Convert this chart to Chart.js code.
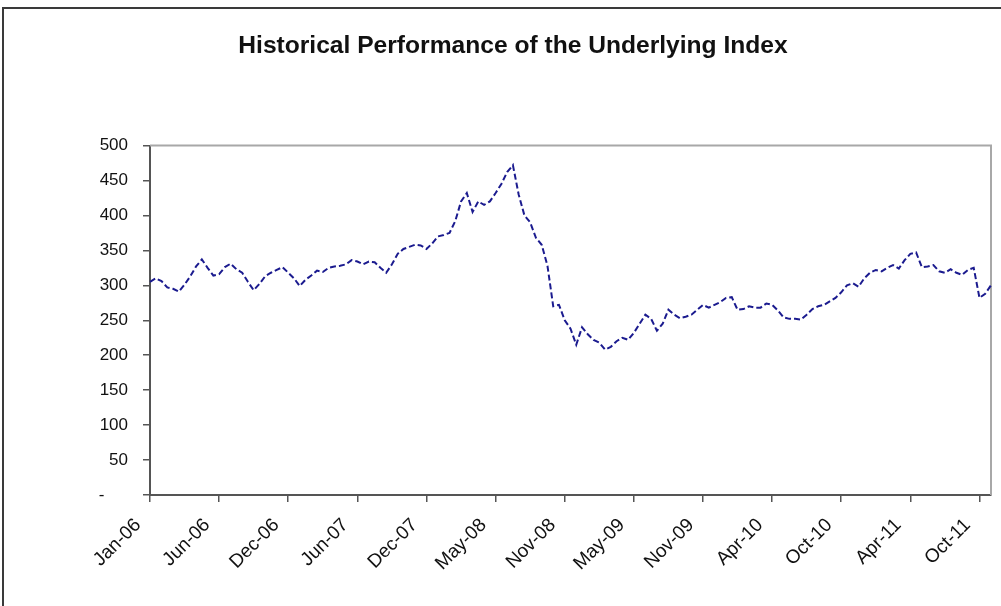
<!DOCTYPE html>
<html>
<head>
<meta charset="utf-8">
<script src="https://cdn.jsdelivr.net/npm/chart.js@4.4.0/dist/chart.umd.min.js"></script>
<style>
  html, body { margin: 0; padding: 0; background: #fff; overflow: hidden; }
  #wrap { position: relative; width: 1001px; height: 606px; }
  #frame { position: absolute; left: 2px; top: 7px; width: 1100px; height: 700px;
           border-left: 2px solid #3a3a3a; border-top: 2px solid #3a3a3a; box-sizing: border-box; }
  canvas { position: absolute; left: 0; top: 0; }
</style>
</head>
<body>
<div id="wrap">
  <canvas id="c" width="1001" height="606"></canvas>
  <div id="frame"></div>
</div>
<script>
const chartTitle = 'Historical Performance of the Underlying Index';
const tickLabels = ['Jan-06','Jun-06','Dec-06','Jun-07','Dec-07','May-08','Nov-08',
                    'May-09','Nov-09','Apr-10','Oct-10','Apr-11','Oct-11'];
const pointsPerTick = 12;
const indexValues = [
  305,310,306,297,295,291,301,313,327,337,325,314,
  316,326,331,323,318,305,293,302,313,318,322,326,
  318,310,299,308,314,321,319,325,327,328,330,336,
  334,330,334,333,325,318,330,345,352,355,358,357,
  352,360,370,372,375,392,420,432,405,420,415,420,
  432,445,462,472,430,400,390,368,358,328,270,272,
  250,238,215,240,230,222,218,208,212,220,225,222,
  232,245,258,252,235,245,265,258,253,255,258,265,
  272,268,272,276,282,283,265,266,270,268,268,274,
  272,264,254,252,252,251,258,266,270,272,277,282,
  290,300,303,298,310,318,322,320,325,329,324,336,
  345,347,326,327,329,320,318,323,318,315,322,325,
  282,288,300
];
const yTicks = { min: 0, max: 500, step: 50 };
const categories = indexValues.map((v, i) => (i % pointsPerTick === 0 ? tickLabels[i / pointsPerTick] : ''));

const FONT = '"Liberation Sans", Arial, sans-serif';

const frameLines = {
  id: 'frameLines',
  beforeDatasetsDraw(chart) {
    const a = chart.chartArea, ctx = chart.ctx;
    ctx.save();
    ctx.strokeStyle = '#a8a8a8';
    ctx.lineWidth = 2;
    ctx.beginPath();
    ctx.moveTo(a.left, a.top);
    ctx.lineTo(a.right, a.top);
    ctx.lineTo(a.right, a.bottom);
    ctx.stroke();
    ctx.restore();
  }
};

new Chart(document.getElementById('c'), {
  type: 'line',
  data: {
    labels: categories,
    datasets: [{
      data: indexValues,
      borderColor: '#1b1b8f',
      borderWidth: 2,
      borderDash: [6, 3],
      pointRadius: 0,
      tension: 0,
      fill: false
    }]
  },
  options: {
    responsive: false,
    animation: false,
    events: [],
    layout: { padding: { left: 35, right: 10, top: 0, bottom: 0 } },
    plugins: {
      legend: { display: false },
      tooltip: { enabled: false },
      title: {
        display: true,
        text: chartTitle,
        color: '#111',
        font: { family: FONT, size: 24.6, weight: 'bold', lineHeight: 1.2 },
        padding: { top: 31, bottom: 85 }
      }
    },
    scales: {
      x: {
        type: 'category',
        offset: false,
        afterFit(axis) { axis.height = 111; axis.paddingLeft = 0; axis.paddingRight = 0; },
        border: { display: true, color: '#555', width: 2 },
        grid: { display: true, drawOnChartArea: false, tickLength: 7, color: '#555', lineWidth: 1.5 },
        ticks: {
          autoSkip: false,
          maxRotation: 45,
          minRotation: 45,
          padding: 12,
          labelOffset: -12,
          color: '#111',
          font: { family: FONT, size: 19 },
          callback(value) {
            const l = this.getLabelForValue(value);
            return l === '' ? null : l;
          }
        }
      },
      y: {
        min: yTicks.min,
        max: yTicks.max,
        afterFit(axis) { axis.width = 115; },
        border: { display: true, color: '#555', width: 2 },
        grid: { display: true, drawOnChartArea: false, tickLength: 7, color: '#555', lineWidth: 1.5 },
        ticks: {
          stepSize: yTicks.step,
          padding: 15,
          color: '#111',
          font: { family: FONT, size: 17 },
          callback(v) { return v === 0 ? '-     ' : String(v); }
        }
      }
    }
  },
  plugins: [frameLines]
});
</script>
</body>
</html>
